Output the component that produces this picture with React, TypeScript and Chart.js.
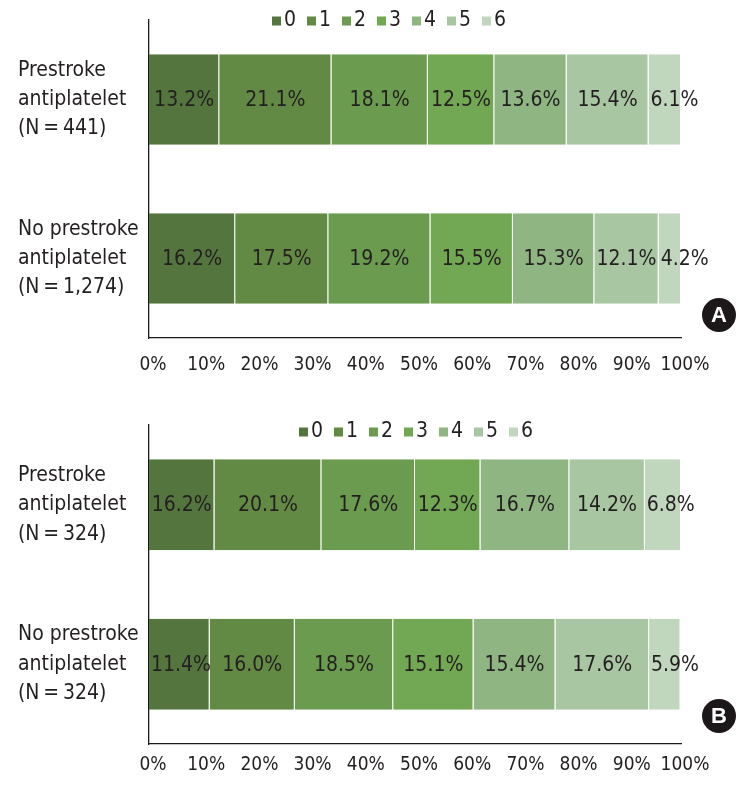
import React, { useEffect, useRef } from 'react';
import { Chart, registerables } from 'chart.js';

Chart.register(...registerables);

// ---------- data ----------
const scoreLabels = ['0', '1', '2', '3', '4', '5', '6'];
const groupLabelsA = [
  ['Prestroke', 'antiplatelet', '(N\u2009=\u2009441)'],
  ['No prestroke', 'antiplatelet', '(N\u2009=\u20091,274)'],
];
const groupLabelsB = [
  ['Prestroke', 'antiplatelet', '(N\u2009=\u2009324)'],
  ['No prestroke', 'antiplatelet', '(N\u2009=\u2009324)'],
];
const xTickValues = [0, 10, 20, 30, 40, 50, 60, 70, 80, 90, 100];

// segment widths (%) as drawn
const valuesA_pre = [13.2, 21.1, 18.1, 12.5, 13.6, 15.4, 6.1];
const valuesA_no = [16.2, 17.5, 19.2, 15.5, 15.3, 12.1, 4.2];
const valuesB_pre = [12.3, 20.1, 17.6, 12.3, 16.7, 14.2, 6.8];
const valuesB_no = [11.4, 16.0, 18.5, 15.1, 15.4, 17.6, 5.9];
// percentages as printed on the segments
const printedA_pre = [13.2, 21.1, 18.1, 12.5, 13.6, 15.4, 6.1];
const printedA_no = [16.2, 17.5, 19.2, 15.5, 15.3, 12.1, 4.2];
const printedB_pre = [16.2, 20.1, 17.6, 12.3, 16.7, 14.2, 6.8];
const printedB_no = [11.4, 16.0, 18.5, 15.1, 15.4, 17.6, 5.9];

const colors = ['#54763e', '#628a45', '#6a9b4e', '#72a753', '#8fb583', '#a9c6a2', '#c0d6bd'];

const FONT = '"Liberation Sans Narrow", "DejaVu Sans Condensed", "Roboto Condensed", Roboto, sans-serif';

// ---------- plugins ----------
const valueLabelPlugin = {
  id: 'valueLabels',
  afterDatasetsDraw(chart: any) {
    const opts = chart.options.plugins.valueLabels;
    if (!opts) return;
    const ctx = chart.ctx;
    ctx.save();
    ctx.font = `${opts.size}px ${FONT}`;
    ctx.fillStyle = '#231f20';
    ctx.textAlign = 'left';
    ctx.textBaseline = 'middle';
    chart.data.datasets.forEach((ds: any, i: number) => {
      const meta = chart.getDatasetMeta(i);
      meta.data.forEach((el: any, j: number) => {
        const start = Math.min(el.base, el.x);
        const end = Math.max(el.base, el.x);
        const text = opts.printed[j][i].toFixed(1) + '%';
        const w = ctx.measureText(text).width;
        const x = Math.max((start + end) / 2 - w / 2, start + 2);
        ctx.fillText(text, x, el.y + 1);
      });
    });
    ctx.restore();
  },
};

const legendPlugin = {
  id: 'boxLegend',
  afterDraw(chart: any) {
    const opts = chart.options.plugins.boxLegend;
    if (!opts) return;
    const ctx = chart.ctx;
    ctx.save();
    ctx.font = `${opts.size}px ${FONT}`;
    ctx.textBaseline = 'middle';
    ctx.textAlign = 'left';
    let x = opts.x;
    chart.data.datasets.forEach((ds: any) => {
      ctx.fillStyle = ds.backgroundColor;
      ctx.fillRect(x, opts.y - 4.5, 9, 9);
      ctx.fillStyle = '#231f20';
      ctx.fillText(ds.label, x + 12, opts.y);
      x += opts.step;
    });
    ctx.restore();
  },
};

const badgePlugin = {
  id: 'badge',
  afterDraw(chart: any) {
    const opts = chart.options.plugins.badge;
    if (!opts) return;
    const ctx = chart.ctx;
    ctx.save();
    ctx.beginPath();
    ctx.arc(opts.x, opts.y, 17, 0, Math.PI * 2);
    ctx.fillStyle = '#1c1718';
    ctx.fill();
    ctx.fillStyle = '#ffffff';
    ctx.font = `bold 22px "Liberation Sans", Arial, sans-serif`;
    ctx.textAlign = 'center';
    ctx.textBaseline = 'middle';
    ctx.fillText(opts.text, opts.x, opts.y + 1);
    ctx.restore();
  },
};

function buildConfig(
  groups: string[][],
  rows: number[][],
  printed: number[][],
  p: { top: number; height: number; xHeight: number; tickPad: number; legendX: number; legendY: number; badge: string; badgeY: number }
): any {
  const datasets = scoreLabels.map((lab, i) => ({
    label: lab,
    data: rows.map((r) => r[i]),
    backgroundColor: colors[i],
    borderColor: 'rgba(255,255,255,0.75)',
    borderWidth: { left: 0, right: 1, top: 0, bottom: 0 },
    borderSkipped: false,
    categoryPercentage: 0.57,
    barPercentage: 1,
  }));
  return {
    type: 'bar',
    data: { labels: groups, datasets },
    plugins: [valueLabelPlugin, legendPlugin, badgePlugin],
    options: {
      indexAxis: 'y',
      responsive: false,
      animation: false,
      layout: { autoPadding: false, padding: { left: 18, right: 67, top: p.top, bottom: 0 } },
      plugins: {
        legend: { display: false },
        tooltip: { enabled: false },
        valueLabels: { printed, size: 21 },
        boxLegend: { x: p.legendX, y: p.legendY, step: 35, size: 21 },
        badge: { x: 719, y: p.badgeY, text: p.badge },
      },
      scales: {
        x: {
          type: 'linear',
          stacked: true,
          min: 0,
          max: 100,
          afterBuildTicks(scale: any) {
            scale.ticks = xTickValues.map((v) => ({ value: v }));
          },
          afterFit(scale: any) {
            scale.height = p.xHeight;
            scale.paddingLeft = 0;
            scale.paddingRight = 0;
          },
          grid: { display: false, drawTicks: false },
          border: { display: true, color: '#1a1a1a', width: 1.3 },
          ticks: {
            padding: p.tickPad,
            labelOffset: 4,
            color: '#231f20',
            font: { family: FONT, size: 19 },
            callback: (v: any) => v + '%',
            maxRotation: 0,
            autoSkip: false,
          },
        },
        y: {
          stacked: true,
          afterFit(scale: any) {
            scale.width = 131;
            scale.paddingTop = 0;
            scale.paddingBottom = 0;
          },
          grid: { display: false, drawTicks: false },
          border: { display: true, color: '#1a1a1a', width: 1.3 },
          ticks: {
            crossAlign: 'far',
            padding: 0,
            color: '#231f20',
            font: { family: FONT, size: 21, lineHeight: 1.4 },
          },
        },
      },
    },
  };
}

function Panel(props: { config: any; top: number; height: number }) {
  const ref = useRef<HTMLCanvasElement | null>(null);
  useEffect(() => {
    if (!ref.current) return;
    const chart = new Chart(ref.current, props.config);
    return () => chart.destroy();
  }, []);
  return (
    <canvas
      ref={ref}
      width={748}
      height={props.height}
      style={{ position: 'absolute', left: 0, top: props.top, width: 748, height: props.height, display: 'block' }}
    />
  );
}

export default function App() {
  const cfgA = buildConfig(groupLabelsA, [valuesA_pre, valuesA_no], [printedA_pre, printedA_no], {
    top: 20, height: 395, xHeight: 57, tickPad: 16, legendX: 272, legendY: 21, badge: 'A', badgeY: 315,
  });
  const cfgB = buildConfig(groupLabelsB, [valuesB_pre, valuesB_no], [printedB_pre, printedB_no], {
    top: 30, height: 397, xHeight: 48, tickPad: 10, legendX: 299, legendY: 37, badge: 'B', badgeY: 321,
  });
  return (
    <div style={{ position: 'absolute', left: 0, top: 0, width: 748, height: 792, background: '#fff' }}>
      <Panel config={cfgA} top={0} height={395} />
      <Panel config={cfgB} top={395} height={397} />
    </div>
  );
}
